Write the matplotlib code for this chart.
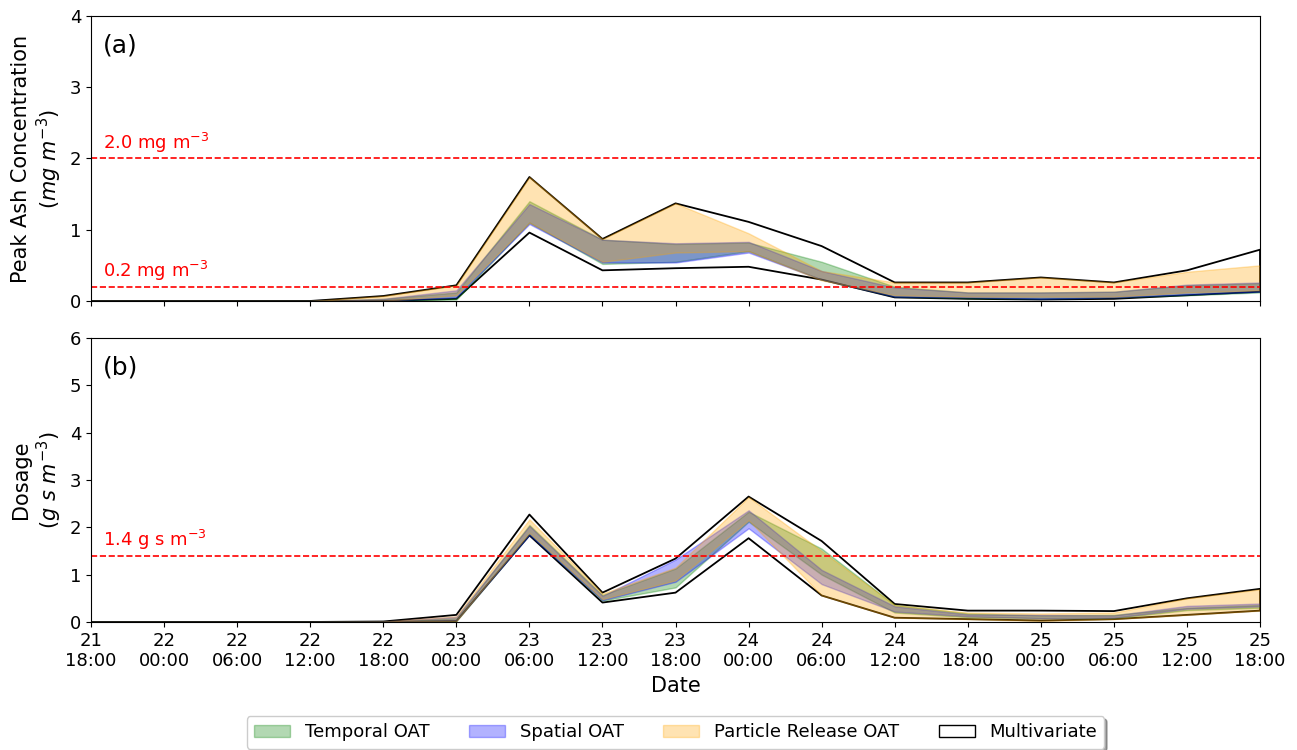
import matplotlib
matplotlib.use("Agg")
import matplotlib.pyplot as plt
import matplotlib.dates as mdates
from matplotlib.patches import Patch
import numpy as np
import pandas as pd

# 6-hourly output times (only day / hour are shown on the axis)
times = pd.date_range("2021-03-21 18:00", periods=17, freq="6h")

# (a) peak ash concentration, mg m-3 : (lower, upper) envelopes
conc_multi_lo = [0, 0, 0, 0, 0.00, 0.03, 0.96, 0.43, 0.46, 0.48, 0.30, 0.05, 0.03, 0.02, 0.03, 0.08, 0.13]
conc_multi_hi = [0, 0, 0, 0, 0.07, 0.22, 1.74, 0.87, 1.37, 1.11, 0.77, 0.26, 0.26, 0.33, 0.26, 0.43, 0.72]
conc_temp_lo = [0, 0, 0, 0, 0.00, 0.02, 1.10, 0.52, 0.55, 0.70, 0.30, 0.06, 0.04, 0.03, 0.05, 0.08, 0.12]
conc_temp_hi = [0, 0, 0, 0, 0.03, 0.12, 1.40, 0.86, 0.80, 0.82, 0.55, 0.20, 0.12, 0.12, 0.13, 0.22, 0.25]
conc_spat_lo = [0, 0, 0, 0, 0.00, 0.05, 1.08, 0.54, 0.54, 0.68, 0.30, 0.06, 0.05, 0.03, 0.05, 0.09, 0.13]
conc_spat_hi = [0, 0, 0, 0, 0.03, 0.15, 1.36, 0.86, 0.81, 0.83, 0.42, 0.19, 0.12, 0.12, 0.13, 0.23, 0.26]
conc_part_lo = [0, 0, 0, 0, 0.00, 0.08, 1.10, 0.55, 0.68, 0.70, 0.29, 0.08, 0.06, 0.06, 0.06, 0.12, 0.15]
conc_part_hi = [0, 0, 0, 0, 0.07, 0.22, 1.74, 0.87, 1.37, 0.95, 0.42, 0.26, 0.26, 0.33, 0.26, 0.41, 0.50]

# (b) dosage, g s m-3
dose_multi_lo = [0, 0, 0, 0, 0.00, 0.02, 1.83, 0.41, 0.62, 1.77, 0.56, 0.09, 0.06, 0.03, 0.06, 0.15, 0.24]
dose_multi_hi = [0, 0, 0, 0, 0.01, 0.15, 2.27, 0.62, 1.34, 2.65, 1.71, 0.38, 0.24, 0.24, 0.23, 0.50, 0.70]
dose_temp_lo = [0, 0, 0, 0, 0.00, 0.02, 1.85, 0.45, 0.73, 2.12, 1.00, 0.20, 0.10, 0.08, 0.08, 0.25, 0.30]
dose_temp_hi = [0, 0, 0, 0, 0.01, 0.08, 2.05, 0.57, 1.13, 2.33, 1.55, 0.36, 0.18, 0.14, 0.15, 0.30, 0.36]
dose_spat_lo = [0, 0, 0, 0, 0.00, 0.03, 1.84, 0.46, 0.85, 1.98, 0.80, 0.22, 0.12, 0.08, 0.09, 0.28, 0.33]
dose_spat_hi = [0, 0, 0, 0, 0.01, 0.11, 2.03, 0.55, 1.32, 2.36, 1.10, 0.33, 0.16, 0.15, 0.14, 0.34, 0.39]
dose_part_lo = [0, 0, 0, 0, 0.00, 0.02, 1.88, 0.48, 0.88, 2.15, 0.56, 0.09, 0.06, 0.02, 0.06, 0.15, 0.24]
dose_part_hi = [0, 0, 0, 0, 0.01, 0.12, 2.17, 0.60, 1.15, 2.64, 1.50, 0.36, 0.20, 0.18, 0.20, 0.50, 0.69]

conc_thresholds = [2.0, 0.2]
dose_thresholds = [1.4]


def draw_panel(ax, multi, oats):
    # multivariate envelope: outline only
    ax.fill_between(times, multi[0], multi[1], facecolor="none",
                    edgecolor="black", linewidth=1.3)
    for (lo, hi), col in oats:
        ax.fill_between(times, lo, hi, color=col, alpha=0.3)


fig = plt.figure(figsize=(12.97, 7.5), dpi=100)
ax1 = fig.add_axes([0.0702, 0.5987, 0.9013, 0.38])
ax2 = fig.add_axes([0.0702, 0.1707, 0.9013, 0.3786], sharex=ax1)

draw_panel(ax1, (conc_multi_lo, conc_multi_hi),
           [((conc_temp_lo, conc_temp_hi), "green"),
            ((conc_spat_lo, conc_spat_hi), "blue"),
            ((conc_part_lo, conc_part_hi), "orange")])
draw_panel(ax2, (dose_multi_lo, dose_multi_hi),
           [((dose_temp_lo, dose_temp_hi), "green"),
            ((dose_spat_lo, dose_spat_hi), "blue"),
            ((dose_part_lo, dose_part_hi), "orange")])

trans1 = ax1.get_yaxis_transform()
for t in conc_thresholds:
    ax1.axhline(t, color="red", linestyle="--", linewidth=1.2)
    ax1.text(0.01, t + 0.05, f"{t:.1f} mg m$^{{-3}}$", color="red",
             fontsize=13, transform=trans1, va="bottom")
trans2 = ax2.get_yaxis_transform()
for t in dose_thresholds:
    ax2.axhline(t, color="red", linestyle="--", linewidth=1.2)
    ax2.text(0.01, t + 0.07, f"{t:.1f} g s m$^{{-3}}$", color="red",
             fontsize=13, transform=trans2, va="bottom")

ax1.set_ylim(0, 4)
ax1.set_yticks([0, 1, 2, 3, 4])
ax2.set_ylim(0, 6)
ax2.set_yticks([0, 1, 2, 3, 4, 5, 6])
ax1.set_xlim(times[0], times[-1])

ax2.xaxis.set_major_locator(mdates.HourLocator(byhour=[0, 6, 12, 18]))
ax2.xaxis.set_major_formatter(mdates.DateFormatter("%d\n%H:%M"))
plt.setp(ax1.get_xticklabels(), visible=False)

for ax in (ax1, ax2):
    ax.tick_params(labelsize=13)

ax1.set_ylabel("Peak Ash Concentration\n($mg\\ m^{-3}$)", fontsize=15)
ax2.set_ylabel("Dosage\n($g\\ s\\ m^{-3}$)", fontsize=15)
ax2.set_xlabel("Date", fontsize=15)

ax1.text(0.01, 0.94, "(a)", transform=ax1.transAxes, fontsize=18, va="top")
ax2.text(0.01, 0.94, "(b)", transform=ax2.transAxes, fontsize=18, va="top")

handles = [
    Patch(facecolor="green", edgecolor="green", alpha=0.3, label="Temporal OAT"),
    Patch(facecolor="blue", edgecolor="blue", alpha=0.3, label="Spatial OAT"),
    Patch(facecolor="orange", edgecolor="orange", alpha=0.3, label="Particle Release OAT"),
    Patch(facecolor="none", edgecolor="black", label="Multivariate"),
]
ax2.legend(handles=handles, loc="upper center", bbox_to_anchor=(0.5, -0.3),
           ncol=4, fontsize=13, frameon=True, shadow=True,
           handlelength=2.0, columnspacing=2.2)

fig.savefig("out.png", dpi=100)
